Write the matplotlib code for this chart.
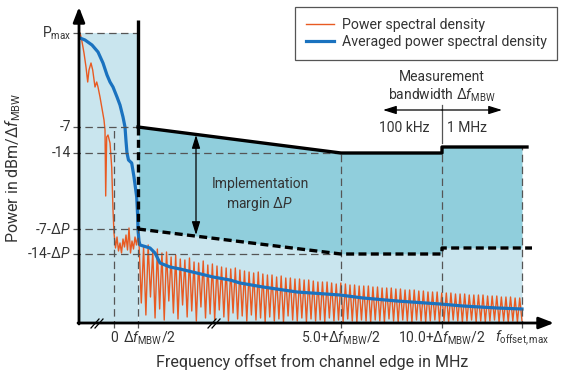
import matplotlib.pyplot as plt

plt.rcParams["font.family"] = ["Roboto", "DejaVu Sans"]
plt.rcParams["mathtext.fontset"] = "custom"
plt.rcParams["mathtext.rm"] = "Roboto"
plt.rcParams["mathtext.it"] = "Roboto:italic"

TXT = "#333333"
ORANGE = "#e85a22"
BLUE = "#1a72bf"
LIGHT = "#c9e5ee"
DARK = "#90cedc"
GUIDE = "#555555"

# schematic units: x = offset right of the power axis, y = height above the frequency axis
x_zero, x_half, x_5, x_10, x_max = 35, 59, 262, 363, 443
y_pmax, y_m7, y_m14, y_m7dp, y_m14dp = 290, 196, 170, 94, 69

# limit lines (solid = requirement, dashed = requirement minus margin)
limit_x = [59, 262, 363, 363, 448]
limit_y = [196, 170, 170, 176, 176]
margin_x = [59, 262, 363, 363, 453]
margin_y = [94, 69, 69, 75, 75]

# PSD inside the channel
psd_left_x = [1, 2.7, 5, 7, 8.7, 10, 12, 13.7, 16, 17.7, 19, 21, 22.7, 25, 26, 26.7,
              27.7, 29, 31, 32.7, 34, 35, 36.5, 38, 39.5, 41, 42.5, 44, 45.5, 47,
              48.5, 50, 51.5, 53, 54.5, 56, 57.5, 59]
psd_left_y = [290, 283, 270, 256, 241, 253, 260, 253, 236, 241, 236, 226, 216, 203, 193, 127,
              186, 188, 180, 156, 113, 90, 75, 86, 72, 80, 70, 84, 76, 88, 73, 95,
              70, 82, 74, 86, 78, 88]

# PSD outside the channel: comb of peaks and troughs
comb_peaks = [80, 76, 78, 72, 74, 70, 71, 66, 68, 64,
              63, 65, 61, 60, 62, 58, 59, 57, 56, 55,
              54, 55, 53, 52, 51, 50, 51, 49, 48, 48,
              46, 47, 45, 45, 44, 44, 43, 43, 42, 41,
              41, 41, 40, 39, 40, 39, 38, 38, 37, 37,
              37, 36, 36, 35, 35, 35, 34, 34, 33, 33,
              33, 32, 32, 31, 31, 31, 30, 30, 30, 29,
              29, 29, 28, 28, 28, 28, 27, 27, 27, 26,
              26, 26, 25, 25]
comb_troughs = [20, 8, 26, 5, 14, 3, 22, 10, 4, 18,
                6, 12, 2, 16, 5, 9, 3, 13, 6, 2,
                10, 4, 7, 2, 8, 3, 5, 1, 6, 2,
                4, 1, 7, 3, 2, 5, 1, 4, 2, 3,
                1, 5, 2, 3, 1, 4, 2, 1, 3, 2,
                1, 3, 2, 1, 4, 2, 1, 3, 2, 1,
                3, 2, 1, 2, 3, 1, 2, 1, 3, 2,
                1, 2, 3, 1, 2, 1, 2, 3, 1, 2,
                1, 2, 1, 2]

# averaged PSD
avg_x = [1, 6, 13, 19, 24, 28, 31, 34, 38, 41, 44, 46, 47, 48, 49.5, 52.7, 55, 57.7,
         58.7, 59, 60, 61, 71, 76, 81, 91, 101, 117.7, 134, 151, 161, 184, 218, 261,
         284, 318, 361, 384, 418, 443]
avg_y = [285, 283, 278, 271, 260, 248, 241, 236, 226, 218, 206, 196, 182, 170, 163, 160, 146, 126,
         106, 93, 82, 78, 75, 70, 60, 56, 54, 50, 46, 43, 40, 36, 31, 28,
         25, 22, 19, 17, 15, 14]

y_ticks = [y_pmax, y_m7, y_m14, y_m7dp, y_m14dp]
y_labels = [r"P$_{\mathrm{max}}$", "-7", "-14", r"-7-Δ$P$", r"-14-Δ$P$"]
x_ticks = [x_zero, x_half, x_5, x_10, x_max]
x_labels = ["0", r"Δ$f_{\mathrm{MBW}}$/2", r"5.0+Δ$f_{\mathrm{MBW}}$/2",
            r"10.0+Δ$f_{\mathrm{MBW}}$/2", r"$f_{\mathrm{offset,max}}$"]


def main() -> None:
    fig = plt.figure(figsize=(5.62, 3.75), dpi=100)
    ax = fig.add_axes([0, 0, 1, 1])
    ax.set_xlim(-79, 483)
    ax.set_ylim(-52, 323)
    ax.axis("off")

    # filled regions
    ax.fill_between([0, x_half], 0, y_pmax, color=LIGHT, lw=0, zorder=1)
    ax.fill_between(margin_x[:4] + [x_max], 0, margin_y, color=LIGHT, lw=0, zorder=1)
    ax.fill_between(limit_x[:4] + [x_max], margin_y, limit_y, color=DARK, lw=0, zorder=1)

    # PSD
    cx, cy = list(psd_left_x), list(psd_left_y)
    step = (x_max - 60) / (len(comb_peaks) - 0.5)
    for i, (pk, tr) in enumerate(zip(comb_peaks, comb_troughs)):
        cx += [60 + i * step, 60 + (i + 0.5) * step]
        cy += [pk, tr]
    psd_line, = ax.plot(cx, cy, color=ORANGE, lw=1.0, zorder=3,
                        label="Power spectral density")
    avg_line, = ax.plot(avg_x, avg_y, color=BLUE, lw=2.3, zorder=4,
                        solid_joinstyle="round",
                        label="Averaged power spectral density")

    # thin guide lines
    gkw = dict(color=GUIDE, lw=0.9, ls=(0, (6, 3.5)), zorder=5)
    ax.plot([-6, x_half], [y_pmax, y_pmax], **gkw)
    ax.plot([-6, x_half], [y_m7, y_m7], **gkw)
    ax.plot([-6, x_5], [y_m14, y_m14], **gkw)
    ax.plot([-6, x_half], [y_m7dp, y_m7dp], **gkw)
    ax.plot([-6, x_5], [y_m14dp, y_m14dp], **gkw)
    ax.plot([x_zero, x_zero], [-5, y_m7], **gkw)
    ax.plot([x_half, x_half], [-5, y_m7dp], **gkw)
    ax.plot([x_5, x_5], [-5, y_m14], **gkw)
    ax.plot([x_10, x_10], [-5, 176], **gkw)
    ax.plot([x_max, x_max], [-5, 176], **gkw)

    # limit lines
    ax.plot([x_half, x_half], [y_m7, 303], color="black", lw=2.4, zorder=6,
            solid_capstyle="butt")
    ax.plot(limit_x, limit_y, color="black", lw=2.4, zorder=6)
    ax.plot([x_half, x_half], [y_m7, y_m7dp], color="black", lw=2.4,
            ls=(0, (2.4, 1.3)), zorder=6)
    ax.plot(margin_x, margin_y, color="black", lw=2.4, ls=(0, (2.4, 1.3)), zorder=6)

    # axes with arrows
    akw = dict(arrowstyle="-|>,head_length=0.9,head_width=0.35", color="black",
               lw=2, shrinkA=0, shrinkB=0)
    ax.annotate("", xy=(0, 316), xytext=(0, -1), arrowprops=akw, zorder=7)
    ax.annotate("", xy=(475, 0), xytext=(-1, 0), arrowprops=akw, zorder=7)
    for bx in (17, 134):
        for off in (0, 4):
            ax.plot([bx - 5 + off, bx + 3 + off], [-5, 4], color="black", lw=0.9,
                    zorder=8)

    # tick labels
    for yv, lab in zip(y_ticks, y_labels):
        ax.text(-8, yv, lab, ha="right", va="center", fontsize=10, color=TXT)
    for xv, lab in zip(x_ticks, x_labels):
        ha = "left" if xv == x_half else "center"
        xp = xv - 15 if xv == x_half else xv
        ax.text(xp, -15, lab, ha=ha, va="center", fontsize=10, color=TXT)

    ax.text(233, -39, "Frequency offset from channel edge in MHz", ha="center",
            va="center", fontsize=11.5, color=TXT)
    ax.text(-66, 155, r"Power in dBm/Δ$f_{\mathrm{MBW}}$", ha="center", va="center",
            rotation=90, fontsize=11.5, color=TXT)

    # implementation margin
    ax.annotate("", xy=(117, 88), xytext=(117, 188),
                arrowprops=dict(arrowstyle="<|-|>,head_length=0.8,head_width=0.25",
                                color="black", lw=0.9, shrinkA=0, shrinkB=0), zorder=7)
    ax.text(181, 128, "Implementation\nmargin Δ$P$", ha="center", va="center",
            fontsize=10, color=TXT, linespacing=1.25, zorder=7)

    # measurement bandwidth
    ax.text(363, 236, "Measurement\nbandwidth Δ$f_{\mathrm{MBW}}$", ha="center",
            va="center", fontsize=10, color=TXT, linespacing=1.25)
    bkw = dict(arrowstyle="-|>,head_length=0.8,head_width=0.25", color="black",
               lw=0.9, shrinkA=0, shrinkB=0)
    ax.annotate("", xy=(304, 213), xytext=(363, 213), arrowprops=bkw)
    ax.annotate("", xy=(423, 213), xytext=(363, 213), arrowprops=bkw)
    ax.plot([x_10, x_10], [180, 218], color=GUIDE, lw=0.9)
    ax.text(325, 195, "100 kHz", ha="center", va="center", fontsize=10, color=TXT)
    ax.text(388, 195, "1 MHz", ha="center", va="center", fontsize=10, color=TXT)

    leg = ax.legend(handles=[psd_line, avg_line], loc="upper right",
                    bbox_to_anchor=(557 / 562, 1 - 7 / 375),
                    bbox_transform=fig.transFigure, fontsize=10.2, frameon=True,
                    fancybox=False, edgecolor=GUIDE, framealpha=1,
                    borderaxespad=0, handlelength=2.0, handletextpad=0.5,
                    labelspacing=0.25, borderpad=0.75)
    leg.get_frame().set_linewidth(0.9)
    for t in leg.get_texts():
        t.set_color(TXT)

    fig.savefig("out.png", dpi=100)
    plt.close(fig)


if __name__ == "__main__":
    main()
